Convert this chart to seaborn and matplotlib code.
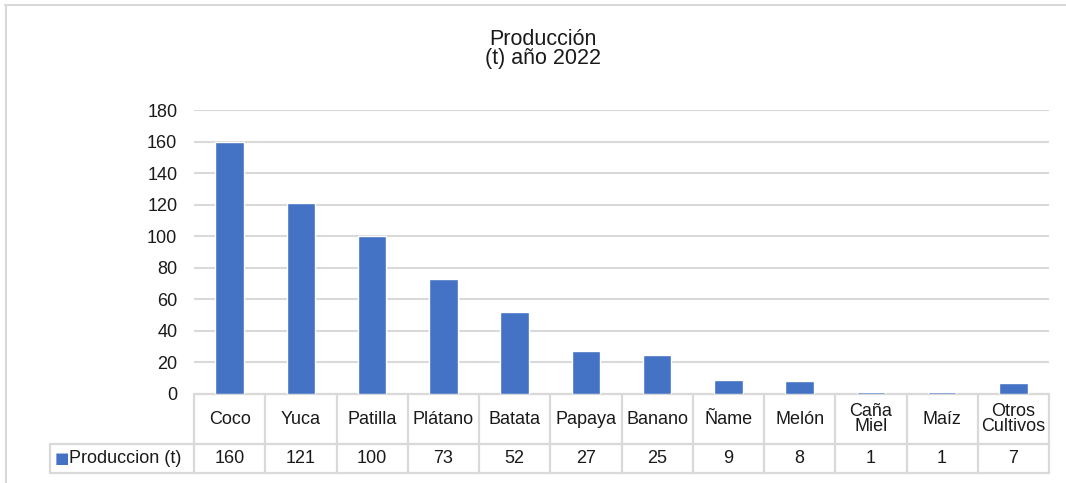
import matplotlib
matplotlib.use("Agg")
import matplotlib.pyplot as plt
import seaborn as sns
import pandas as pd

# data
cultivos = ["Coco", "Yuca", "Patilla", "Plátano", "Batata", "Papaya", "Banano",
            "Ñame", "Melón", "Caña Miel", "Maíz", "Otros Cultivos"]
etiquetas = ["Coco", "Yuca", "Patilla", "Plátano", "Batata", "Papaya", "Banano",
             "Ñame", "Melón", "Caña\nMiel", "Maíz", "Otros\nCultivos"]
produccion = [160, 121, 100, 73, 52, 27, 25, 9, 8, 1, 1, 7]
serie = "Produccion (t)"

df = pd.DataFrame({"cultivo": cultivos, "prod": produccion})

sns.set_style("white")
plt.rcParams["font.family"] = ["Liberation Sans", "DejaVu Sans"]

azul = "#4472C4"
gris = "#D9D9D9"
texto = "#1a1a1a"

fig = plt.figure(figsize=(10.66, 4.83), dpi=100)
ax = fig.add_axes([194 / 1066, 1 - 394 / 483, (1049 - 194) / 1066, 284 / 483])

sns.barplot(data=df, x="cultivo", y="prod", color=azul, width=0.4,
            saturation=1, ax=ax, zorder=3)

ax.set_xlim(-0.5, len(cultivos) - 0.5)
ax.set_ylim(0, 180)
ax.set_yticks(range(0, 181, 20))
ax.yaxis.grid(True, color=gris, linewidth=1.5, zorder=0)
ax.set_axisbelow(True)
ax.set_xticks([])
ax.set_xlabel("")
ax.set_ylabel("")
ax.tick_params(axis="y", length=0, pad=12, labelsize=13, labelcolor=texto)
for s in ax.spines.values():
    s.set_visible(False)

# data table below the bars
tr = ax.get_xaxis_transform()
h = 284.0
y_top, y_mid, y_bot = 0, -50 / h, -79 / h
n = len(cultivos)
x_leg = -0.5 - 144 / 71.25
lw = 1.6
ax.plot([-0.5, n - 0.5], [y_top, y_top], color=gris, lw=lw, transform=tr, clip_on=False)
ax.plot([x_leg, n - 0.5], [y_mid, y_mid], color=gris, lw=lw, transform=tr, clip_on=False)
ax.plot([x_leg, n - 0.5], [y_bot, y_bot], color=gris, lw=lw, transform=tr, clip_on=False)
ax.plot([x_leg, x_leg], [y_mid, y_bot], color=gris, lw=lw, transform=tr, clip_on=False)
for i in range(n + 1):
    ax.plot([i - 0.5, i - 0.5], [y_top, y_bot], color=gris, lw=lw, transform=tr, clip_on=False)

for i, (lab, v) in enumerate(zip(etiquetas, produccion)):
    ax.text(i, (y_top + y_mid) / 2, lab, ha="center", va="center", fontsize=13,
            color=texto, transform=tr, linespacing=0.9)
    ax.text(i, (y_mid + y_bot) / 2, str(v), ha="center", va="center", fontsize=13,
            color=texto, transform=tr)

# legend key inside the table
ax.text(x_leg + 0.16, (y_mid + y_bot) / 2, "■", ha="center", va="center",
        fontsize=11, color=azul, transform=tr, family="DejaVu Sans")
ax.text(x_leg + 0.265, (y_mid + y_bot) / 2, serie, ha="left", va="center",
        fontsize=13, color=texto, transform=tr)

# title
fig.text(543 / 1066, 1 - 49 / 483, "Producción\n(t) año 2022", ha="center",
         va="center", fontsize=15.5, color=texto, linespacing=0.88)

# chart area border (top and left visible)
fig.add_artist(plt.Line2D([5 / 1066, 1], [1 - 5 / 483, 1 - 5 / 483], color=gris, lw=1.5))
fig.add_artist(plt.Line2D([6 / 1066, 6 / 1066], [0, 1 - 5 / 483], color=gris, lw=1.5))

fig.savefig("out.png", dpi=100)
